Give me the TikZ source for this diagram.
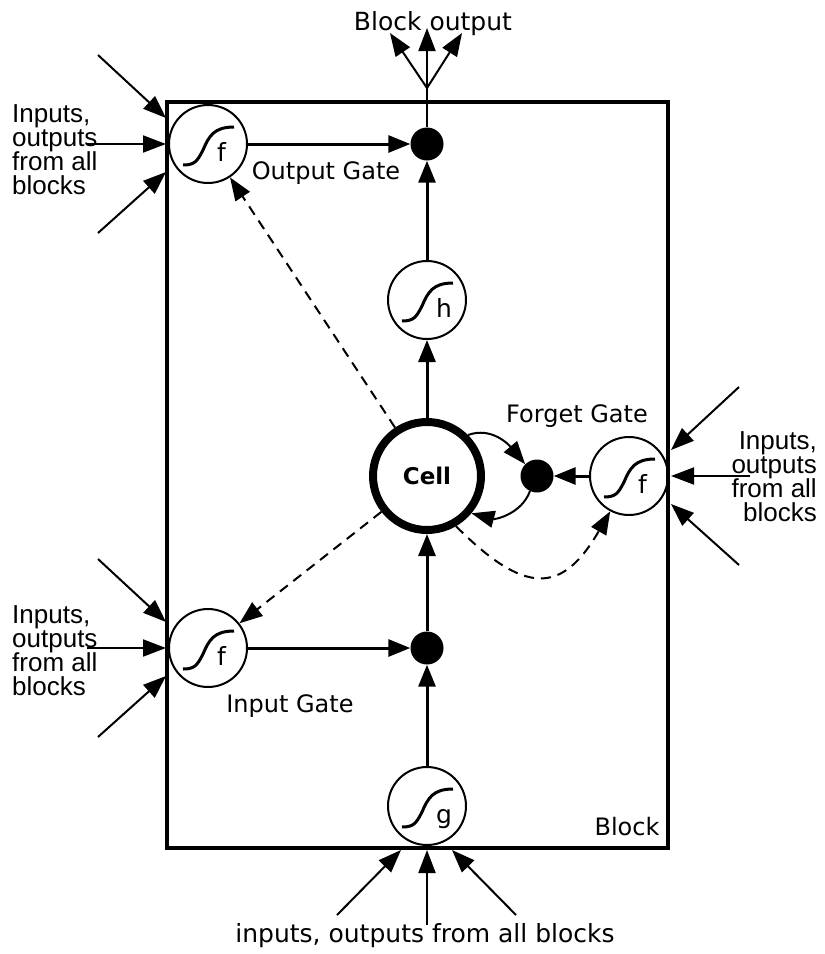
\documentclass[tikz,border=0pt]{standalone}
\usepackage{fontspec}
\setmainfont{DejaVu Sans}
\newfontfamily\arialfont{Liberation Sans}
\usetikzlibrary{arrows.meta,calc}

\tikzset{
  gate/.style={circle,draw,line width=2pt,minimum size=78pt,inner sep=0pt},
  mult/.style={circle,fill,minimum size=33pt,inner sep=0pt},
  conn/.style={line width=3pt,-{Triangle[length=22pt,width=17pt]}},
  thinarrow/.style={line width=2pt,-{Triangle[length=23pt,width=17pt]}},
  peep/.style={line width=2pt,dash pattern=on 10pt off 7pt,-{Triangle[length=23pt,width=17pt]}},
  lbl/.style={inner sep=0pt,font=\fontsize{24}{28}\selectfont},
  sidetext/.style={inner sep=0pt,font=\arialfont\fontsize{26}{24}\selectfont},
  pics/sigm/.style={code={
    \draw[line width=3pt] (-25,-21) .. controls (-14,-21) and (-11,-18) .. (-5,-6) .. controls (1,8) and (6,17) .. (26,17);
    \node[anchor=mid west,inner sep=0pt,font=\fontsize{25}{25}\selectfont] at (9,-15) {#1};
  }}
}

\begin{document}
\setlength{\lineskiplimit}{-30pt}
\begin{tikzpicture}[x=1pt,y=1pt]
  \useasboundingbox (0,0) rectangle (825,-954);

  % the block
  \draw[line width=4pt] (167,-102) rectangle (668,-848);
  \node[lbl] (blocklbl) at (627,-827) {Block};

  % gates, squashing units and multipliers
  \node[gate] (og) at (208,-144) {};
  \node[gate] (ig) at (208,-648) {};
  \node[gate] (fg) at (629,-476) {};
  \node[gate] (h) at (427,-300) {};
  \node[gate] (g) at (427,-806) {};
  \pic at (og) {sigm=f};
  \pic at (ig) {sigm=f};
  \pic at (fg) {sigm=f};
  \pic at (h) {sigm=h};
  \pic at (g) {sigm=g};
  \node[mult] (odot) at (427,-144) {};
  \node[mult] (idot) at (427,-648) {};
  \node[mult] (fdot) at (537,-476) {};
  \node[circle,draw,line width=8pt,minimum size=108pt,inner sep=0pt,
        font=\bfseries\fontsize{23}{23}\selectfont] (cell) at (427,-476) {Cell};

  \node[lbl] (oglbl) at (326,-173) {Output Gate};
  \node[lbl] (iglbl) at (290,-706) {Input Gate};
  \node[lbl] (fglbl) at (577,-416) {Forget Gate};

  % main flow
  \draw[conn] (og) -- (odot);
  \draw[conn] (ig) -- (idot);
  \draw[conn] (fg) -- (fdot);
  \draw[conn] (g) -- (idot);
  \draw[conn] (idot) -- (cell);
  \draw[conn] (cell) -- (h);
  \draw[conn] (h) -- (odot);

  % self loop through the forget gate
  \draw[thinarrow] (cell.45) to[out=20,in=130] (fdot.135);
  \draw[thinarrow] (fdot.-115) to[out=-110,in=-15] (cell.-40);

  % peepholes
  \draw[peep] (cell) -- (og);
  \draw[peep] (cell) -- (ig);
  \draw[peep] (cell.-60) to[out=-45,in=-120,looseness=1.6] (fg.-118);

  % block output
  \coordinate (split) at (427,-88);
  \coordinate (bo1) at (390,-33);
  \coordinate (bo2) at (427,-28);
  \coordinate (bo3) at (462,-33);
  \draw[line width=2pt] (odot) -- (split);
  \foreach \b in {bo1,bo2,bo3}
    \draw[thinarrow] (split) -- (\b);
  \node[lbl,font=\fontsize{25}{28}\selectfont] (bout) at (433,-24) {Block output};

  % inputs from all blocks
  \foreach \sx/\sy/\ex/\ey in {-110/89/-42/26, -121/0/-42/0, -110/-89/-42/-28} {
    \draw[thinarrow] ($(og)+(\sx,\sy)$) -- ($(og)+(\ex,\ey)$);
    \draw[thinarrow] ($(ig)+(\sx,\sy)$) -- ($(ig)+(\ex,\ey)$);
    \draw[thinarrow] ($(fg)+(-1*\sx,\sy)$) -- ($(fg)+(-1*\ex,\ey)$);
  }
  \foreach \sx/\sy/\ex in {-90/-109/-26, 0/-119/0, 89/-109/25}
    \draw[thinarrow] ($(g)+(\sx,\sy)$) -- ($(g)+(\ex,-44)$);

  \node[sidetext,anchor=west,align=left] (ogin) at (12,-150) {Inputs,\\outputs\\from all\\blocks};
  \node[sidetext,anchor=west,align=left] (igin) at (12,-651) {Inputs,\\outputs\\from all\\blocks};
  \node[sidetext,anchor=east,align=right] (fgin) at (817,-477) {Inputs,\\outputs\\from all\\blocks};
  \node[lbl,font=\fontsize{25}{28}\selectfont] (btm) at (425,-936) {inputs, outputs from all blocks};
\end{tikzpicture}
\end{document}
